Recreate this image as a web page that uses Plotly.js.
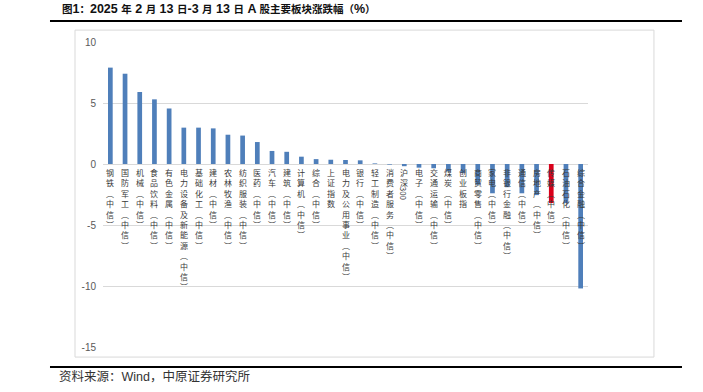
<!DOCTYPE html>
<html>
<head>
<meta charset="utf-8">
<script src="https://cdn.plot.ly/plotly-3.0.1.min.js"></script>
<style>
html,body{margin:0;padding:0;background:#fff;}
#chart{width:703px;height:392px;}
</style>
</head>
<body>
<div id="chart"></div>
<script>
// ---- data ----
var categories = ["钢铁(中信)","国防军工(中信)","机械(中信)","食品饮料(中信)","有色金属(中信)","电力设备及新能源(中信)","基础化工(中信)","建材(中信)","农林牧渔(中信)","纺织服装(中信)","医药(中信)","汽车(中信)","建筑(中信)","计算机(中信)","综合(中信)","上证指数","电力及公用事业(中信)","银行(中信)","轻工制造(中信)","消费者服务(中信)","沪深300","电子(中信)","交通运输(中信)","煤炭(中信)","创业板指","商贸零售(中信)","家电(中信)","非银行金融(中信)","通信(中信)","房地产(中信)","传媒(中信)","石油石化(中信)","综合金融(中信)"];
var changes = [7.9,7.4,5.9,5.3,4.55,2.98,2.98,2.92,2.4,2.33,1.8,1.07,1.0,0.6,0.4,0.35,0.33,0.3,0.05,-0.05,-0.18,-0.3,-0.35,-0.6,-0.75,-1.7,-2.4,-1.9,-2.4,-2.55,-3.2,-3.2,-10.2];
var highlighted = ["传媒(中信)"];
var yTicks = [10,5,0,-5,-10,-15];
var titleText = "图1：2025 年 2 月 13 日-3 月 13 日 A 股主要板块涨跌幅（%）";
var sourceText = "资料来源：Wind，中原证券研究所";

// ---- styles ----
var BLUE = "#4f7fba", RED = "#d9001b";
var colors = categories.map(function(c){ return highlighted.indexOf(c) >= 0 ? RED : BLUE; });

var trace = {
  type: "bar",
  x: categories,
  y: changes,
  marker: {color: colors},
  hoverinfo: "x+y"
};

// vertical (stacked) category labels built from the category names
var annotations = [];
var LABEL_FS = 8, LINE = LABEL_FS * 1.3, DIGIT_W = LABEL_FS * 0.6;
var labelFont = {family: "Noto Sans CJK SC", size: LABEL_FS, color: "#3a3a3a"};
categories.forEach(function(cat){
  var segs = cat.replace(/\(/g, "︵").replace(/\)/g, "︶").match(/[0-9]+|[^0-9]+/g);
  var off = 2;
  segs.forEach(function(s){
    if (/^[0-9]+$/.test(s)) {
      var h = DIGIT_W * s.length;
      annotations.push({xref: "x", yref: "y", x: cat, y: 0, text: s, showarrow: false,
        textangle: 90, xanchor: "center", yanchor: "middle", yshift: -(off + h / 2),
        borderpad: 0, font: labelFont});
      off += h;
    } else {
      var chars = Array.from(s);
      annotations.push({xref: "x", yref: "y", x: cat, y: 0, text: chars.join("<br>"), showarrow: false,
        xanchor: "center", yanchor: "top", yshift: -off, borderpad: 0, font: labelFont});
      off += chars.length * LINE;
    }
  });
});

function titleHtml(t){
  return "<b>" + t.replace(/([^\x00-\x7f]+)/g, '<span style="font-size:10.5px">$1</span>') + "</b>";
}
annotations.push({
  xref: "paper", yref: "paper", x: -0.089, y: 1.108,
  xanchor: "left", yanchor: "middle", showarrow: false,
  text: titleHtml(titleText),
  font: {family: "Liberation Sans, Noto Sans CJK SC", size: 12.5, color: "#111"}
});
annotations.push({
  xref: "paper", yref: "paper", x: -0.095, y: -0.098,
  xanchor: "left", yanchor: "middle", showarrow: false,
  text: sourceText,
  font: {family: "Liberation Sans, Noto Sans CJK SC", size: 12.5, color: "#333"}
});

var shapes = [
  {type: "rect", xref: "paper", yref: "paper", x0: -0.0577, x1: 1.136, y0: -0.033, y1: 1.039,
   line: {color: "#d9d9d9", width: 1}, fillcolor: "rgba(0,0,0,0)", layer: "below"},
  {type: "line", xref: "paper", yref: "paper", x0: -0.1093, x1: 1.1938, y0: 1.0689, y1: 1.0689,
   line: {color: "#000", width: 2}},
  {type: "line", xref: "paper", yref: "paper", x0: -0.1093, x1: 1.1938, y0: -0.0656, y1: -0.0656,
   line: {color: "#000", width: 2}}
];

var layout = {
  width: 703, height: 392,
  margin: {l: 103, r: 115, t: 42, b: 45},
  paper_bgcolor: "#fff", plot_bgcolor: "#fff",
  showlegend: false,
  bargap: 0.68,
  xaxis: {type: "category", showticklabels: false, showgrid: false, zeroline: false,
          showline: false, ticks: "", range: [-0.5, categories.length - 0.5], fixedrange: true},
  yaxis: {range: [-15, 10], tickvals: yTicks, ticktext: yTicks.map(String),
          showgrid: true, gridcolor: "#d9d9d9", gridwidth: 1,
          zeroline: true, zerolinecolor: "#d9d9d9", zerolinewidth: 1,
          showline: false, ticks: "", ticklabelstandoff: 6,
          tickfont: {family: "Liberation Sans", size: 10, color: "#595959"}, fixedrange: true},
  annotations: annotations,
  shapes: shapes
};

Plotly.newPlot("chart", [trace], layout, {displayModeBar: false, staticPlot: true});
</script>
</body>
</html>
